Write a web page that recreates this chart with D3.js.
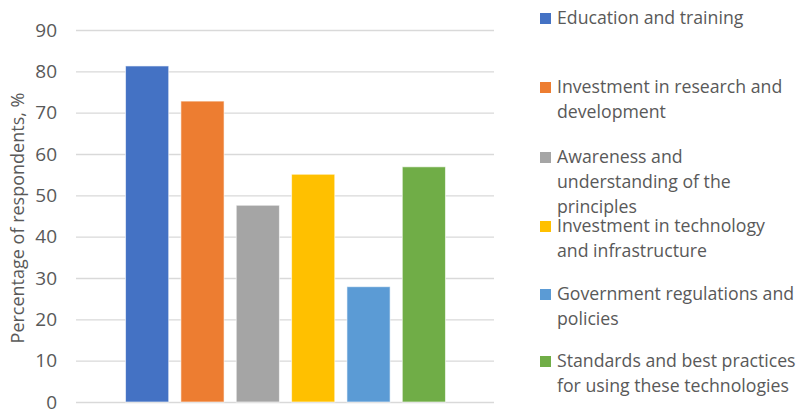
<!DOCTYPE html>
<html>
<head>
<meta charset="utf-8">
<script src="https://cdn.jsdelivr.net/npm/d3@7"></script>
<style>
  html, body { margin: 0; padding: 0; background: #fff; }
  svg { display: block; font-family: "Open Sans", sans-serif; }
</style>
</head>
<body>
<svg id="chart" width="799" height="410"></svg>
<script>
// Survey factors and share of respondents (%)
const categories = [
  "Education and training",
  "Investment in research and development",
  "Awareness and understanding of the principles",
  "Investment in technology and infrastructure",
  "Government regulations and policies",
  "Standards and best practices for using these technologies"
];
const values = [81.3, 72.8, 47.6, 55.1, 27.9, 56.9];
const legendLines = [
  ["Education and training"],
  ["Investment in research and", "development"],
  ["Awareness and", "understanding of the", "principles"],
  ["Investment in technology", "and infrastructure"],
  ["Government regulations and", "policies"],
  ["Standards and best practices", "for using these technologies"]
];
const yTicks = [0, 10, 20, 30, 40, 50, 60, 70, 80, 90];
const colors = ["#4472C4", "#ED7D31", "#A5A5A5", "#FFC000", "#5B9BD5", "#70AD47"];
const yTitle = "Percentage of respondents, %";

const svg = d3.select("#chart");
const plot = { left: 76, right: 494, top: 30, bottom: 402 };

const y = d3.scaleLinear().domain([0, 90]).range([plot.bottom, plot.top]);
const x = d3.scaleBand()
  .domain(categories)
  .range([120, 451])
  .paddingInner(0.22)
  .paddingOuter(0.1);

// gridlines + tick labels
const yAxis = d3.axisLeft(y)
  .tickValues(yTicks)
  .tickSize(-(plot.right - plot.left))
  .tickPadding(19);

const gAxis = svg.append("g")
  .attr("transform", `translate(${plot.left},0)`)
  .call(yAxis);
gAxis.select(".domain").remove();
gAxis.selectAll(".tick line")
  .attr("stroke", "#d9d9d9")
  .attr("stroke-width", 1.3);
gAxis.selectAll(".tick text")
  .attr("fill", "#595959")
  .style("font-size", "19px")
  .style("font-family", "'Open Sans', sans-serif");

// axis title
svg.append("text")
  .attr("transform", `translate(24,${(plot.top + plot.bottom) / 2 + 2}) rotate(-90)`)
  .attr("text-anchor", "middle")
  .attr("fill", "#595959")
  .style("font-size", "18px")
  .text(yTitle);

// bars
svg.append("g").selectAll("rect")
  .data(categories)
  .join("rect")
  .attr("x", d => x(d))
  .attr("width", x.bandwidth())
  .attr("y", (d, i) => y(values[i]))
  .attr("height", (d, i) => y(0) - y(values[i]))
  .attr("fill", (d, i) => colors[i])
  .attr("stroke", "#ffffff")
  .attr("stroke-opacity", 0.6)
  .attr("stroke-width", 1);

// legend
const legendX = 540;
const entryTop = [24, 93, 163, 232, 300, 367];
const lineGap = 25;
const lg = svg.append("g");
categories.forEach((c, i) => {
  const g = lg.append("g");
  g.append("rect")
    .attr("x", legendX)
    .attr("y", entryTop[i] - 11)
    .attr("width", 11)
    .attr("height", 11)
    .attr("fill", colors[i]);
  const t = g.append("text")
    .attr("fill", "#595959")
    .style("font-size", "17.7px");
  legendLines[i].forEach((line, j) => {
    t.append("tspan")
      .attr("x", legendX + 17)
      .attr("y", entryTop[i] + j * lineGap)
      .text(line);
  });
});
</script>
</body>
</html>
